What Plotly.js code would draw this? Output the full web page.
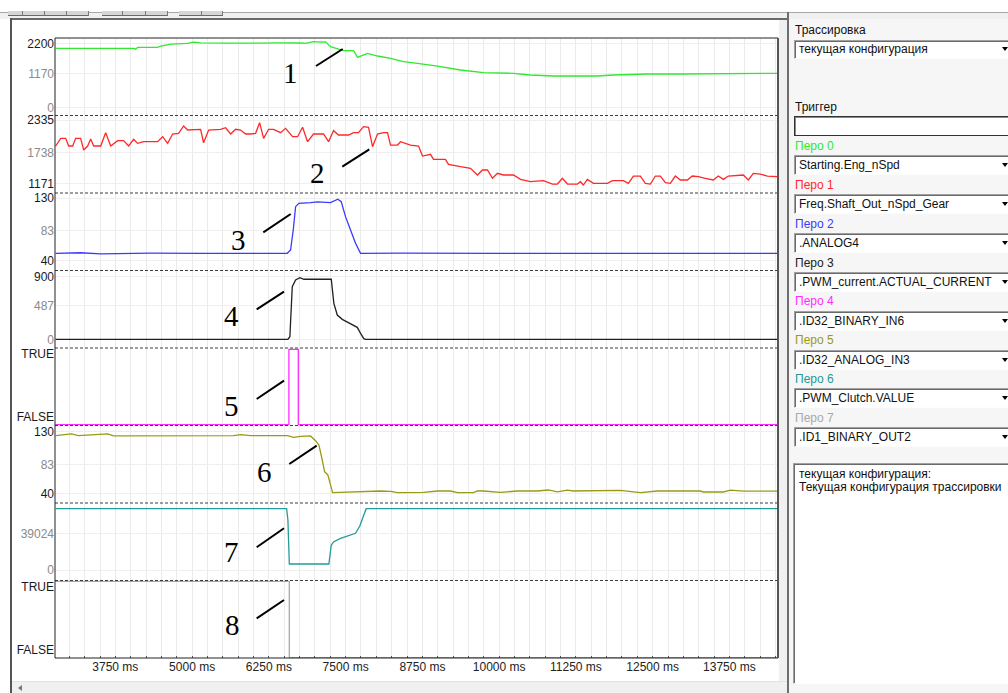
<!DOCTYPE html>
<html><head><meta charset="utf-8">
<script src="https://cdn.plot.ly/plotly-3.0.1.min.js"></script>
<style>
html,body{margin:0;padding:0;width:1008px;height:693px;overflow:hidden;background:#fff;font-family:"Liberation Sans",Arial,sans-serif;font-size:12px;color:#111;}
#chart{position:absolute;left:0;top:0;width:1008px;height:693px;}
.ov{position:absolute;z-index:5;box-sizing:border-box;}
.lbl{position:absolute;z-index:6;white-space:nowrap;line-height:14px;font-size:12px;}
.box{position:absolute;z-index:6;box-sizing:border-box;background:#fff;border-top:1px solid #a0a0a0;border-left:1px solid #a0a0a0;border-bottom:1px solid #fdfdfd;box-shadow:inset 1px 1px 0 #6a6a6a;padding-left:4px;white-space:nowrap;overflow:hidden;font-size:12px;}
.arr{position:absolute;z-index:7;width:0;height:0;border-left:3.5px solid transparent;border-right:3.5px solid transparent;border-top:4px solid #000;}
</style></head><body>
<div id="chart"></div>
<div id="chrome"></div>
<script>
// ---------- data ----------
const timeTicks = [3750, 5000, 6250, 7500, 8750, 10000, 11250, 12500, 13750];
const timeTickText = ['3750 ms','5000 ms','6250 ms','7500 ms','8750 ms','10000 ms','11250 ms','12500 ms','13750 ms'];
const timeRange = [2767, 14541];

// Pen 0: Starting.Eng_nSpd
const engTime = [2778,3104,3511,3836,4048,4081,4113,4438,4488,4650,4927,5024,5138,5545,5789,5952,6115,6359,6603,6766,6848,6929,6978,7092,7173,7254,7466,7629,7694,7856,8019,8231,8442,8670,8996,9370,9744,10233,10509,10884,11323,11600,11860,12414,12951,13488,14041,14530];
const engSpd  = [2029,2029,2029,2029,2029,2000,2063,2063,2100,2170,2200,2240,2215,2205,2215,2210,2205,2212,2220,2210,2200,2230,2255,2240,2250,2084,1947,1947,1721,1858,1766,1687,1571,1517,1424,1288,1196,1175,1117,1083,1093,1083,1117,1151,1151,1151,1175,1175];

// Pen 1: Freq.Shaft_Out_nSpd_Gear
const shaftTime = [2778,2860,2941,2990,3055,3104,3185,3234,3299,3348,3397,3511,3592,3674,3787,3885,3966,4048,4113,4211,4438,4520,4601,4683,4780,4862,4927,5090,5138,5187,5269,5464,5545,5627,5708,5789,5871,5952,6034,6099,6164,6245,6327,6440,6522,6636,6717,6799,6880,6978,7140,7222,7303,7384,7547,7629,7710,7791,7873,7938,8019,8117,8182,8231,8345,8394,8556,8687,8752,8882,8931,9126,9175,9370,9533,9647,9728,9810,9891,9972,10070,10233,10347,10509,10721,10868,10949,11030,11112,11274,11323,11372,11437,11535,11763,11844,12023,12104,12186,12300,12381,12463,12544,12625,12707,12788,12869,12951,13065,13146,13244,13358,13488,13569,13651,13732,13879,13976,14058,14139,14253,14367,14530];
const shaftSpd  = [1857,1998,1998,1857,1857,1998,1998,1783,1857,1986,1857,1857,2102,1857,1955,1955,1857,1980,1906,1936,1936,2028,1906,2078,2090,2225,2151,2151,2164,1917,2151,2164,2193,2078,2164,2151,2078,2078,2090,2286,1998,2164,2164,2102,2182,2028,2028,2201,1936,2078,2078,1936,2139,2059,2059,2102,2102,2212,2200,1844,2078,2102,2102,1875,1875,1936,1875,1857,1673,1704,1612,1612,1520,1476,1447,1324,1416,1416,1263,1355,1324,1324,1244,1201,1219,1158,1158,1263,1158,1158,1201,1140,1244,1171,1171,1219,1219,1171,1305,1305,1171,1158,1305,1305,1182,1171,1305,1232,1232,1305,1293,1263,1232,1305,1244,1305,1324,1324,1232,1355,1342,1305,1293];

// Pen 2: .ANALOG4
const analogTime = [2778,3185,3511,4325,5138,5952,6549,6603,6647,6685,6738,6929,7038,7254,7373,7428,7498,7580,7661,7743,8394,10021,11648,13276,14530];
const analog4    = [50.7,51.5,50.0,51.0,50.5,50.7,50.7,55.4,84.3,117.9,122.8,123.7,124.7,123.7,128.6,125.1,103.5,84.3,65.1,50.7,51.0,50.5,51.0,50.7,50.7];

// Pen 3: .PWM_current.ACTUAL_CURRENT
const currentTime = [2778,6560,6592,6631,6685,6755,6820,7266,7308,7364,7445,7552,7689,7743,7796,7824,14530];
const current     = [0,0,37,756,853,886,863,863,517,349,287,239,172,86,9,0,0];

// Pen 4: .ID32_BINARY_IN6
const binIn6Time = [2770,6576,6729,14530];
const binIn6     = [0,1,0,0];

// Pen 5: .ID32_ANALOG_IN3
const analogIn3Time = [2778,3035,3148,3624,3722,4601,5138,5676,5789,5952,6554,6652,6766,6929,7010,7065,7119,7157,7211,7243,7287,8068,8231,8345,8768,8996,9207,9321,9582,9647,9744,10021,10298,10623,10802,10949,11112,11209,11697,11974,12300,12577,13276,13325,13651,13765,13976,14530];
const analogIn3     = [124.6,127.1,124.6,127.1,124.2,124.2,125.2,124.6,126.1,124.6,124.6,122.3,123.5,124.2,117.4,111.1,89.3,72.4,67.6,55.5,41.9,44.3,43.8,41.9,42.3,44.3,44.3,41.9,41.9,44.3,44.3,42.3,44.3,44.3,45.8,43.2,45.5,44.3,44.3,45.2,41.9,44.3,44.3,42.9,42.9,45.5,44.0,44.0];

// Pen 6: .PWM_Clutch.VALUE
const clutchTime = [2778,6539,6560,6583,7227,7266,7308,7417,7661,7731,7796,7835,14530];
const clutch     = [65180,65180,53165,6380,6380,26580,30090,33700,39020,46790,58480,65180,65180];

// Pen 7: .ID1_BINARY_OUT2
const binOut2Time = [2770,6583,14530];
const binOut2     = [1,0,0];

// axis tick labels per strip
const engTickVals = [0,1170,2200],        engTickText = ['0','1170','2200'];
const shaftTickVals = [1171,1738,2335],   shaftTickText = ['1171','1738','2335'];
const analogTickVals = [40,83,130],       analogTickText = ['40','83','130'];
const currentTickVals = [0,487,900],      currentTickText = ['0','487','900'];
const boolTickText = ['FALSE','TRUE'];
const analogIn3TickVals = [40,83,130],    analogIn3TickText = ['40','83','130'];
const clutchTickVals = [0,39024],         clutchTickText = ['0','39024'];

// legend panel
const penLabels = ['Перо 0','Перо 1','Перо 2','Перо 3','Перо 4','Перо 5','Перо 6','Перо 7'];
const penSignals = ['Starting.Eng_nSpd','Freq.Shaft_Out_nSpd_Gear','.ANALOG4','.PWM_current.ACTUAL_CURRENT','.ID32_BINARY_IN6','.ID32_ANALOG_IN3','.PWM_Clutch.VALUE','.ID1_BINARY_OUT2'];
const penColors = ['#2fe82f','#ff2828','#3a3aff','#202020','#ff2cff','#9a9a14','#229a9a','#a8a8a8'];
const calloutLabels = ['1','2','3','4','5','6','7','8'];

// ---------- styling / layout ----------
const GREY = '#8a8a8a', DARK = '#1a1a1a';
function col(t, c){ return '<span style="color:'+c+'">'+t+'</span>'; }

const stripDefs = [
  {x:engTime, y:engSpd, shape:'linear', range:[-266,2381], tv:engTickVals, tt:engTickText, tc:[GREY,GREY,DARK], grid:true},
  {x:shaftTime, y:shaftSpd, shape:'linear', range:[993,2418], tv:shaftTickVals, tt:shaftTickText, tc:[DARK,GREY,DARK], grid:true},
  {x:analogTime, y:analog4, shape:'linear', range:[25.9,137.6], tv:analogTickVals, tt:analogTickText, tc:[DARK,GREY,DARK], grid:true},
  {x:currentTime, y:current, shape:'linear', range:[-125,989], tv:currentTickVals, tt:currentTickText, tc:[GREY,GREY,DARK], grid:true},
  {x:binIn6Time, y:binIn6, shape:'hv', range:[-0.011,1.017], tv:[0.10,0.935], tt:boolTickText, tc:[DARK,DARK], grid:false},
  {x:analogIn3Time, y:analogIn3, shape:'linear', range:[26.9,139.4], tv:analogIn3TickVals, tt:analogIn3TickText, tc:[DARK,GREY,DARK], grid:true},
  {x:clutchTime, y:clutch, shape:'linear', range:[-11165,71242], tv:clutchTickVals, tt:clutchTickText, tc:[GREY,GREY], grid:true},
  {x:binOut2Time, y:binOut2, shape:'hv', range:[-0.004,1.0105], tv:[0.10,0.93], tt:boolTickText, tc:[DARK,DARK], grid:false}
];

const data = stripDefs.map((s,i)=>({
  type:'scatter', mode:'lines', x:s.x, y:s.y, xaxis:'x', yaxis: i? 'y'+(i+1) : 'y',
  line:{color:penColors[i], width:1.3, shape:s.shape}, hoverinfo:'skip', showlegend:false
}));

const L = 55, T = 38, W = 723, H = 620;
function px(x){ return (x-L)/W; }
function py(y){ return (T+H-y)/H; }

const layout = {
  width:1008, height:693,
  margin:{l:L, r:1008-L-W, t:T, b:693-T-H, pad:0},
  paper_bgcolor:'#ffffff', plot_bgcolor:'#ffffff',
  font:{family:'"Liberation Sans", Arial, sans-serif', size:12, color:'#111'},
  showlegend:false,
  xaxis:{
    range:timeRange, anchor:'y8', tickmode:'array', tickvals:timeTicks, ticktext:timeTickText,
    ticks:'', showgrid:true, gridcolor:'#ebebeb', gridwidth:1,
    minor:{tickmode:'linear', tick0:0, dtick:250, showgrid:true, gridcolor:'#ebebeb', ticks:'inside', ticklen:2, tickcolor:'#555'},
    zeroline:false, showline:false, fixedrange:true, tickfont:{size:12, color:'#222'}
  },
  shapes:[], annotations:[]
};

stripDefs.forEach((s,i)=>{
  layout['yaxis'+(i? i+1 : '')] = {
    domain:[(7-i)/8, (8-i)/8], range:s.range, anchor:'x',
    tickmode:'array', tickvals:s.tv, ticktext:s.tt.map((t,j)=>col(t,s.tc[j])),
    ticks:'', showgrid:s.grid, gridcolor:'#efefef', zeroline:false, showline:false,
    fixedrange:true, tickfont:{size:12}
  };
});

for(let k=1;k<8;k++){
  layout.shapes.push({type:'line', xref:'paper', yref:'paper', x0:0, x1:1, y0:k/8, y1:k/8, layer:'above',
    line:{color:'#3c3c3c', width:1, dash:'3px,2px'}});
}
layout.shapes.push({type:'rect', xref:'paper', yref:'paper', x0:0, x1:1, y0:0, y1:1, layer:'above', line:{color:'#222', width:1}});
layout.shapes.push({type:'line', xref:'paper', yref:'paper', x0:1, x1:1, y0:0, y1:1, layer:'above', line:{color:'#555', width:2}});

// callout positions (pixel coordinates of the screenshot)
const calloutText = [[290.3,73],[317,173],[238.3,239.7],[231.2,316.3],[231.7,405.7],[264.5,471.8],[231.2,552.2],[232,625]];
const calloutLine = [[316,66,342.7,49],[342.3,166.7,369.3,149.3],[263.3,232.3,290.7,214],[256.7,309.3,284,291.7],
                     [256.7,399,284,380.7],[289.3,464,316.7,445.7],[256.7,547.3,284,528.3],[256.7,618.3,284,600]];
calloutLabels.forEach((t,i)=>{
  const p = calloutText[i], q = calloutLine[i];
  layout.annotations.push({xref:'paper', yref:'paper', x:px(p[0]), y:py(p[1]), text:t, showarrow:false,
    xanchor:'center', yanchor:'middle', font:{family:'"Liberation Serif", "Times New Roman", serif', size:29, color:'#000'}});
  layout.shapes.push({type:'line', xref:'paper', yref:'paper', x0:px(q[0]), y0:py(q[1]), x1:px(q[2]), y1:py(q[3]),
    layer:'above', line:{color:'#000', width:2}});
});

Plotly.newPlot('chart', data, layout, {staticPlot:true, displayModeBar:false});

// ---------- window chrome ----------
const ch = document.getElementById('chrome');
function add(cls, style, html){ const d=document.createElement('div'); d.className=cls; d.setAttribute('style', style); if(html!==undefined) d.innerHTML=html; ch.appendChild(d); return d; }

// toolbar remnants
add('ov','left:0;top:12px;width:1008px;height:7px;background:#f0f0f0;border-top:1px solid #a8a8a8;');
[[8,[23,45,67,89]],[102,[123,146,168]],[179,[202,223]]].forEach(g=>{
  let x0=g[0];
  g[1].forEach(x1=>{ add('ov','left:'+x0+'px;top:11px;width:'+(x1-x0)+'px;height:5px;background:#d6d6d6;border-right:1px solid #7a7a7a;border-bottom:1px solid #6a6a6a;'); x0=x1; });
});
// frame
add('ov','left:10px;top:18px;width:779px;height:2px;background:#6a6a6a;');
add('ov','left:10px;top:18px;width:2px;height:675px;background:#555;');
add('ov','left:779px;top:20px;width:8px;height:661px;background:#f0f0f0;');
add('ov','left:787px;top:12px;width:2px;height:681px;background:#6e6e6e;');
// scrollbar
add('ov','left:12px;top:681px;width:775px;height:12px;background:#f0f0f0;border-top:1px solid #e2e2e2;');
add('ov','left:18px;top:685px;width:0;height:0;border-top:3px solid transparent;border-bottom:3px solid transparent;border-right:4px solid #777;');

// right panel
add('ov','left:789px;top:19px;width:219px;height:674px;background:#f6f6f6;');
add('lbl','left:795px;top:23px;color:#111;','Трассировка');
add('box','left:794px;top:40px;width:230px;height:19px;line-height:17px;','текущая конфигурация');
add('arr','left:1002px;top:47px;');
add('lbl','left:795px;top:100px;color:#111;','Триггер');
add('box','left:794px;top:116px;width:230px;height:20px;border:1px solid #333;box-shadow:inset 1px 1px 0 #888;','');
penLabels.forEach((t,i)=>{
  const ly = 139 + i*38.85, by = 155 + i*38.9;
  add('lbl','left:795px;top:'+ly.toFixed(1)+'px;color:'+penColors[i]+';', t);
  add('box','left:794px;top:'+by.toFixed(1)+'px;width:230px;height:20px;line-height:18px;', penSignals[i]);
  add('arr','left:1002px;top:'+(by+8).toFixed(1)+'px;');
});
add('box','left:793px;top:463px;width:230px;height:221px;padding:4px 0 0 5px;line-height:13.4px;','текущая конфигурация:<br>Текущая конфигурация трассировки');
</script>
</body></html>
